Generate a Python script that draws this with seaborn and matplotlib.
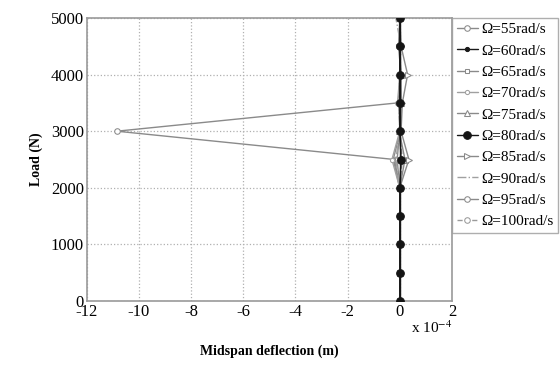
import numpy as np
import pandas as pd
import matplotlib
matplotlib.use('Agg')
import matplotlib.pyplot as plt
import seaborn as sns
from matplotlib.ticker import FuncFormatter

# Load steps (N)
load = [0, 500, 1000, 1500, 2000, 2500, 3000, 3500, 4000, 4500, 5000]

# Midspan deflection, in units of 1e-4 m, one list per spin speed
d55 = [0, 0, 0, 0, 0, -0.2, -10.85, -0.08, 0, 0, 0]
d60 = [0, 0, 0, 0, 0, 0.0, 0.0, 0.0, 0, 0, 0]
d65 = [0, 0, 0, 0, 0, -0.25, 0.02, -0.05, 0.05, -0.05, 0]
d70 = [0, 0, 0, 0, 0, -0.3, 0.0, 0.05, 0, 0, 0]
d75 = [0, 0, 0, 0, 0, 0.2, -0.02, 0.05, 0.05, 0, 0]
d80 = [0, 0, 0, 0, 0, 0.05, 0.0, 0.0, 0, 0, 0]
d85 = [0, 0, 0, 0, 0, 0.35, 0.05, 0.1, 0.3, 0.05, 0]
d90 = [0, 0, 0, 0, 0, -0.15, 0.0, -0.05, 0, 0.05, -0.15]
d95 = [0, 0, 0, 0, 0, -0.1, 0.0, 0.0, 0, 0, 0]
d100 = [0, 0, 0, 0, 0, 0.1, 0.0, 0.0, 0, 0, 0]

speeds = [55, 60, 65, 70, 75, 80, 85, 90, 95, 100]
series = [d55, d60, d65, d70, d75, d80, d85, d90, d95, d100]

styles = {
    55: dict(marker='o', color='#8a8a8a', mfc='white', ms=4, ls='-', z=3),
    60: dict(marker='.', color='#1a1a1a', mfc='#1a1a1a', ms=6, ls='-', z=5),
    65: dict(marker='s', color='#8a8a8a', mfc='white', ms=3.5, ls='-', z=3),
    70: dict(marker='o', color='#a0a0a0', mfc='white', ms=3, ls='-', z=3),
    75: dict(marker='^', color='#8a8a8a', mfc='white', ms=4, ls='-', z=3),
    80: dict(marker='o', color='#151515', mfc='#151515', ms=5.5, ls='-', z=6),
    85: dict(marker='>', color='#8a8a8a', mfc='white', ms=4, ls='-', z=3),
    90: dict(marker='None', color='#a0a0a0', mfc='white', ms=0, ls='-.', z=3),
    95: dict(marker='o', color='#8a8a8a', mfc='white', ms=4, ls='-', z=2),
    100: dict(marker='o', color='#9a9a9a', mfc='white', ms=4, ls='--', z=2),
}

sns.set_style('white')
plt.rcParams['font.family'] = ['Liberation Serif', 'DejaVu Serif']
plt.rcParams['mathtext.fontset'] = 'stix'
plt.rcParams['text.color'] = 'black'
plt.rcParams['axes.labelcolor'] = 'black'
plt.rcParams['xtick.color'] = 'black'
plt.rcParams['ytick.color'] = 'black'

fig = plt.figure(figsize=(5.6, 3.9), dpi=100)
ax = fig.add_axes([0.155, 0.228, 0.652, 0.726])

for sp, vals in zip(speeds, series):
    st = styles[sp]
    df = pd.DataFrame({'x': np.array(vals) * 1e-4, 'y': load})
    sns.lineplot(data=df, x='x', y='y', sort=False, estimator=None, ax=ax,
                 color=st['color'], marker=st['marker'], markersize=st['ms'],
                 markerfacecolor=st['mfc'], markeredgecolor=st['color'],
                 linestyle=st['ls'], linewidth=1.0, zorder=st['z'],
                 label='\u03a9=%drad/s' % sp)

ax.set_xlim(-12e-4, 2e-4)
ax.set_ylim(0, 5000)
ax.set_xticks(np.arange(-12, 3, 2) * 1e-4)
ax.set_yticks(np.arange(0, 5001, 1000))
ax.xaxis.set_major_formatter(FuncFormatter(lambda v, p: '%d' % round(v * 1e4)))
ax.grid(True, color='#b0b0b0', linestyle=':', linewidth=0.9)
for s in ax.spines.values():
    s.set_color('#9a9a9a')
    s.set_linewidth(1.2)
ax.tick_params(axis='both', labelsize=12, length=0, pad=2)

ax.set_xlabel('Midspan deflection (m)', fontsize=10, fontweight='bold', labelpad=18)
ax.set_ylabel('Load (N)', fontsize=10, fontweight='bold', labelpad=6)
ax.text(1.0, -0.065, 'x 10$^{-4}$', transform=ax.transAxes, ha='right', va='top', fontsize=11)

leg = ax.legend(loc='upper left', bbox_to_anchor=(1.0, 1.0), frameon=True, fancybox=False,
                borderaxespad=0, fontsize=11, handlelength=1.4, handletextpad=0.2,
                labelspacing=0.5, borderpad=0.3)
leg.get_frame().set_edgecolor('#9a9a9a')
leg.get_frame().set_linewidth(1.0)

fig.savefig('out.png', dpi=100)
